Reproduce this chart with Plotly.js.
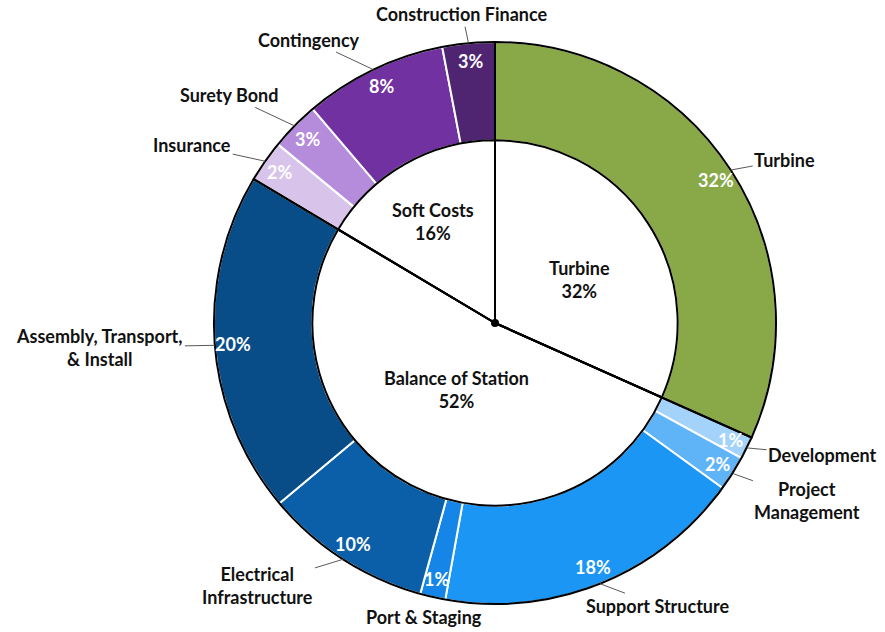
<!DOCTYPE html>
<html>
<head>
<meta charset="utf-8">
<script src="https://cdn.plot.ly/plotly-3.0.1.min.js"></script>
<style>html,body{margin:0;padding:0;background:#fff;}#chart{width:885px;height:632px;}</style>
</head>
<body>
<div id="chart"></div>
<script>
// ---- data ----
const categories = ['Turbine', 'Development', 'Project Management', 'Support Structure', 'Port & Staging',
  'Electrical Infrastructure', 'Assembly, Transport, & Install', 'Insurance', 'Surety Bond', 'Contingency',
  'Construction Finance'];
const displayLabels = ['Turbine', 'Development', 'Project<br>Management', 'Support Structure', 'Port & Staging',
  'Electrical<br>Infrastructure', 'Assembly, Transport,<br>& Install', 'Insurance', 'Surety Bond', 'Contingency',
  'Construction Finance'];
const groupOf = ['Turbine', 'Balance of Station', 'Balance of Station', 'Balance of Station', 'Balance of Station',
  'Balance of Station', 'Balance of Station', 'Soft Costs', 'Soft Costs', 'Soft Costs', 'Soft Costs'];
const values = [31.6, 1.3, 2.0, 17.8, 1.45, 9.6, 19.6, 2.4, 2.8, 8.2, 3.0];
const groupNames = ['Turbine', 'Balance of Station', 'Soft Costs'];

// ---- styles / layout ----
const sliceColors = ['#89A847', '#A3D3FB', '#5FB4F8', '#1C96F5', '#1586E8', '#0A5FA8', '#084D87',
  '#D8C3EA', '#B58BDC', '#7131A1', '#4F2471'];
const W = 885, H = 632;
const CX = 495, CY = 323, R = 281, HOLE = 0.65;
const RI = R * HOLE;
// outer label offsets from the slice anchor on the rim (px)
const labelDX = [54, 76, 75, 58, -9, -85, -115, -73, -66, -64, -6];
const labelDY = [-10, 7, 27, 22, 20, 26, 2, -16, -31, -30, -29];
const showLeader = [true, true, true, true, false, true, true, true, true, true, true];
const pctRadius = 263;
const innerRF = [0.52, 0.42, 0.65];
const innerDA = [6, 3, -2];
const FONT = 'Lato, Carlito, Calibri, sans-serif';

const total = values.reduce((a, b) => a + b, 0);
const groupValues = groupNames.map(g => values.reduce((s, v, i) => s + (groupOf[i] === g ? v : 0), 0));

function px2paper(px, py) { return [px / W, 1 - py / H]; }
function polar(angDeg, r) {
  const a = angDeg * Math.PI / 180;
  return [CX + r * Math.sin(a), CY - r * Math.cos(a)];
}
function midAngles(vals) {
  let cum = 0; const out = [];
  vals.forEach(v => { out.push((cum + v / 2) / total * 360); cum += v; });
  return out;
}
const mids = midAngles(values);
const gmids = midAngles(groupValues);

const domOuter = {x: [(CX - R) / W, (CX + R) / W], y: [1 - (CY + R) / H, 1 - (CY - R) / H]};
const domInner = {x: [(CX - RI) / W, (CX + RI) / W], y: [1 - (CY + RI) / H, 1 - (CY - RI) / H]};
const clear = groupNames.map(() => 'rgba(0,0,0,0)');

const traces = [
  {
    type: 'pie', labels: categories, values: values, hole: HOLE, sort: false, direction: 'clockwise',
    rotation: 0, domain: domOuter, textinfo: 'none', showlegend: false,
    marker: {colors: sliceColors, line: {color: '#ffffff', width: 2}}
  },
  {
    type: 'pie', labels: groupNames, values: groupValues, sort: false, direction: 'clockwise',
    rotation: 0, domain: domInner, textinfo: 'none', showlegend: false, hoverinfo: 'skip',
    marker: {colors: clear, line: {color: '#000000', width: 2}}
  },
  {
    type: 'pie', labels: groupNames, values: groupValues, sort: false, direction: 'clockwise',
    rotation: 0, domain: domOuter, textinfo: 'none', showlegend: false, hoverinfo: 'skip',
    marker: {colors: clear, line: {color: '#000000', width: 2}}
  }
];

const annotations = [];
categories.forEach((c, i) => {
  const ang = mids[i];
  // percentage inside ring
  const pp = polar(ang, pctRadius);
  const pq = px2paper(pp[0], pp[1]);
  annotations.push({
    x: pq[0], y: pq[1], xref: 'paper', yref: 'paper', showarrow: false,
    xanchor: 'center', yanchor: 'middle',
    text: Math.round(values[i] / total * 100) + '%',
    font: {family: FONT, size: 18, color: '#ffffff', weight: 'bold'}
  });
  // category label with leader line
  const ap = polar(ang, R);
  const aq = px2paper(ap[0], ap[1]);
  if (showLeader[i]) {
    annotations.push({
      x: aq[0], y: aq[1], xref: 'paper', yref: 'paper', showarrow: true,
      ax: labelDX[i], ay: labelDY[i], arrowhead: 0, arrowwidth: 1, arrowcolor: '#595959', standoff: 0,
      text: displayLabels[i], align: 'center',
      font: {family: FONT, size: 18, color: '#111111', weight: 'bold'}
    });
  } else {
    const lq = px2paper(ap[0] + labelDX[i], ap[1] + labelDY[i]);
    annotations.push({
      x: lq[0], y: lq[1], xref: 'paper', yref: 'paper', showarrow: false,
      xanchor: 'center', yanchor: 'middle',
      text: displayLabels[i], align: 'center',
      font: {family: FONT, size: 18, color: '#111111', weight: 'bold'}
    });
  }
});
groupNames.forEach((g, i) => {
  const p = polar(gmids[i] + innerDA[i], RI * innerRF[i]);
  const q = px2paper(p[0], p[1]);
  annotations.push({
    x: q[0], y: q[1], xref: 'paper', yref: 'paper', showarrow: false, align: 'center',
    xanchor: 'center', yanchor: 'middle',
    text: g + '<br>' + Math.round(groupValues[i] / total * 100) + '%',
    font: {family: FONT, size: 18, color: '#111111', weight: 'bold'}
  });
});

const c0 = px2paper(CX, CY);
const layout = {
  width: W, height: H, margin: {l: 0, r: 0, t: 0, b: 0},
  paper_bgcolor: '#ffffff', plot_bgcolor: '#ffffff', showlegend: false,
  font: {family: FONT},
  annotations: annotations,
  shapes: [{
    type: 'circle', xref: 'paper', yref: 'paper', xsizemode: 'pixel', ysizemode: 'pixel',
    xanchor: c0[0], yanchor: c0[1], x0: -4, x1: 4, y0: -4, y1: 4,
    fillcolor: '#000000', line: {width: 0}
  }]
};

Plotly.newPlot('chart', traces, layout, {displayModeBar: false, staticPlot: true});
</script>
</body>
</html>
